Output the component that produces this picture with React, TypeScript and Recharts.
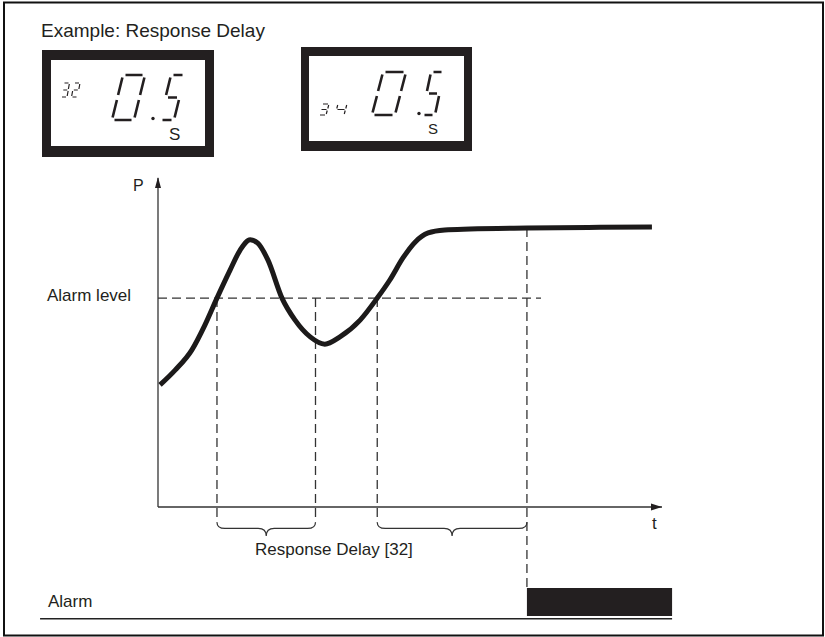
import { LineChart, Line, XAxis, YAxis, ReferenceLine, ReferenceArea, ReferenceDot } from 'recharts';

// time (arbitrary units, 0-100 across the t axis) and P (0-100 up the P axis)
const timeValues = [0.4, 3.4, 6.7, 9.3, 11.7, 14.3, 16.3, 18.3, 19.8, 21.8, 24.6, 27.2, 30.2, 33.1, 36.1, 40.1, 43.5, 46.0, 48.6, 51.0, 53.6, 56.9, 61.9, 73.2, 87.7, 98.0];
const pressureValues = [37.1, 41.6, 47.7, 55.3, 63.5, 72.0, 78.1, 81.2, 80.2, 75.1, 63.5, 56.8, 51.7, 49.5, 51.7, 56.8, 63.5, 69.0, 75.7, 80.5, 83.3, 84.2, 84.5, 84.8, 85.0, 85.1];

const alarmLevel = 63.5;
const alarmLevelEnd = 76;
const delayStarts = [11.7, 43.5];
const delayEnds = [31.25, 73.2];
const delayEndLevels = [alarmLevel, 84.8];
const alarmOn = 73.2;
const alarmEnd = 102;
const braceTop = -4.6;
const braceBottom = -8.8;
const alarmBarTop = -24.6;
const alarmBarBottom = -33.1;
const alarmBaseline = -34.0;
const alarmBaselineStart = -23.4;

const data = timeValues.map((t, i) => ({ t, p: pressureValues[i] }));

const INK = '#231f20';
const FONT = '"Liberation Sans", Arial, sans-serif';

const SEGMENTS: Record<string, string> = {
  '0': 'abcdef',
  '2': 'abged',
  '3': 'abgcd',
  '4': 'fgbc',
  '5': 'afgcd',
};

function digitPath(digit: string, x: number, y: number, w: number, h: number, slant: number, gap: number) {
  const p = (u: number, v: number) => `${(x + u + slant * (1 - v / h)).toFixed(1)},${(y + v).toFixed(1)}`;
  const segs: Record<string, number[][]> = {
    a: [[gap, 0], [w - gap, 0]],
    b: [[w, gap], [w, h / 2 - gap]],
    c: [[w, h / 2 + gap], [w, h - gap]],
    d: [[gap, h], [w - gap, h]],
    e: [[0, h / 2 + gap], [0, h - gap]],
    f: [[0, gap], [0, h / 2 - gap]],
    g: [[gap, h / 2], [w - gap, h / 2]],
  };
  return SEGMENTS[digit]
    .split('')
    .map((s) => `M${p(segs[s][0][0], segs[s][0][1])}L${p(segs[s][1][0], segs[s][1][1])}`)
    .join('');
}

function Brace(props: any) {
  const { x, y, width, height } = props;
  const x1 = x + width;
  const xm = x + width / 2;
  const ym = y + height * 0.45;
  const yb = y + height;
  const r = 8;
  const d = `M${x},${y} Q${x},${ym} ${x + r},${ym} L${xm - r},${ym} Q${xm},${ym} ${xm},${yb} Q${xm},${ym} ${xm + r},${ym} L${x1 - r},${ym} Q${x1},${ym} ${x1},${y}`;
  return <path d={d} fill="none" stroke="#333" strokeWidth={1.2} />;
}

function ArrowRight(props: any) {
  const { cx, cy } = props;
  return (
    <g>
      <polygon points={`${cx},${cy} ${cx - 11},${cy - 3.5} ${cx - 11},${cy + 3.5}`} fill={INK} />
      <text x={cx - 10} y={cy + 22} fontSize={17} fontFamily={FONT} fill={INK}>t</text>
    </g>
  );
}

function ArrowUp(props: any) {
  const { cx, cy } = props;
  return (
    <g>
      <polygon points={`${cx},${cy - 1} ${cx - 3},${cy + 10} ${cx + 3},${cy + 10}`} fill={INK} />
      <text x={cx - 25} y={cy + 13} fontSize={16} fontFamily={FONT} fill={INK}>P</text>
    </g>
  );
}

function Displays() {
  return (
    <svg width={825} height={637} style={{ position: 'absolute', left: 0, top: 0, pointerEvents: 'none' }}>
      <rect x={4} y={2.5} width={819} height={633} fill="none" stroke="#111" strokeWidth={2} />
      <text x={41} y={37} fontSize={19} fontFamily={FONT} fill={INK}>Example: Response Delay</text>

      <rect x={42} y={50} width={172} height={107} fill={INK} />
      <rect x={51} y={60} width={154} height={86} fill="#fff" />
      <path d={digitPath('3', 61, 83, 6, 14, 2.5, 1) + digitPath('2', 71.5, 83, 6, 14, 2.5, 1)} stroke={INK} strokeWidth={1.2} fill="none" />
      <path d={digitPath('0', 112, 75, 22, 45, 11, 2.5) + digitPath('5', 160, 75, 14, 45, 11, 2.5)} stroke={INK} strokeWidth={2.6} fill="none" />
      <circle cx={153} cy={118.5} r={1.7} fill={INK} />
      <text x={169} y={140} fontSize={17} fontFamily={FONT} fill={INK}>S</text>

      <rect x={301} y={47} width={171} height={104} fill={INK} />
      <rect x={309} y={56} width={155} height={85} fill="#fff" />
      <path d={digitPath('3', 319, 104, 7, 11, 3, 1) + digitPath('4', 335, 104, 9, 11, 3, 1)} stroke={INK} strokeWidth={1.2} fill="none" />
      <path d={digitPath('0', 372, 72, 23, 43, 11, 2.5) + digitPath('5', 422, 72, 13, 43, 9, 2.5)} stroke={INK} strokeWidth={2.6} fill="none" />
      <circle cx={419} cy={113.5} r={1.7} fill={INK} />
      <text x={428} y={134} fontSize={15} fontFamily={FONT} fill={INK}>S</text>

      <text x={47} y={301} fontSize={17} fontFamily={FONT} fill={INK}>Alarm level</text>
      <text x={255} y={555} fontSize={17} fontFamily={FONT} fill={INK}>Response Delay [32]</text>
      <text x={48} y={607} fontSize={17} fontFamily={FONT} fill={INK}>Alarm</text>
    </svg>
  );
}

export default function App() {
  const dash = { stroke: '#333', strokeWidth: 1.3, strokeDasharray: '9 5' };
  return (
    <div style={{ position: 'absolute', left: 0, top: 0, width: 825, height: 637, background: '#fff' }}>
      <div style={{ position: 'absolute', left: 0, top: 0 }}>
        <LineChart width={825} height={637} data={data} margin={{ top: 178, right: 163, bottom: 129, left: 157 }}>
          <XAxis type="number" dataKey="t" domain={[0, 100]} allowDataOverflow height={1} tick={false} tickLine={false} axisLine={{ stroke: '#333', strokeWidth: 1.3 }} />
          <YAxis type="number" domain={[0, 100]} allowDataOverflow width={1} tick={false} tickLine={false} axisLine={{ stroke: '#333', strokeWidth: 1.3 }} />
          <ReferenceLine segment={[{ x: 0, y: alarmLevel }, { x: alarmLevelEnd, y: alarmLevel }]} ifOverflow="visible" {...dash} />
          {delayStarts.map((s, i) => (
            <ReferenceLine key={`s${i}`} segment={[{ x: s, y: alarmLevel }, { x: s, y: braceTop }]} ifOverflow="visible" {...dash} />
          ))}
          <ReferenceLine segment={[{ x: delayEnds[0], y: delayEndLevels[0] }, { x: delayEnds[0], y: braceTop }]} ifOverflow="visible" {...dash} />
          <ReferenceLine segment={[{ x: delayEnds[1], y: delayEndLevels[1] }, { x: delayEnds[1], y: alarmBarTop }]} ifOverflow="visible" {...dash} />
          {delayStarts.map((s, i) => (
            <ReferenceArea key={`b${i}`} x1={s} x2={delayEnds[i]} y1={braceTop} y2={braceBottom} ifOverflow="visible" shape={<Brace />} />
          ))}
          <ReferenceArea x1={alarmOn} x2={alarmEnd} y1={alarmBarTop} y2={alarmBarBottom} ifOverflow="visible" fill={INK} fillOpacity={1} stroke="none" />
          <ReferenceLine segment={[{ x: alarmBaselineStart, y: alarmBaseline }, { x: alarmEnd, y: alarmBaseline }]} ifOverflow="visible" stroke="#222" strokeWidth={1.5} />
          <ReferenceDot x={100} y={0} ifOverflow="visible" shape={<ArrowRight />} />
          <ReferenceDot x={0} y={100} ifOverflow="visible" shape={<ArrowUp />} />
          <Line type="monotone" dataKey="p" stroke="#1c1a1a" strokeWidth={5} dot={false} isAnimationActive={false} />
        </LineChart>
      </div>
      <Displays />
    </div>
  );
}
